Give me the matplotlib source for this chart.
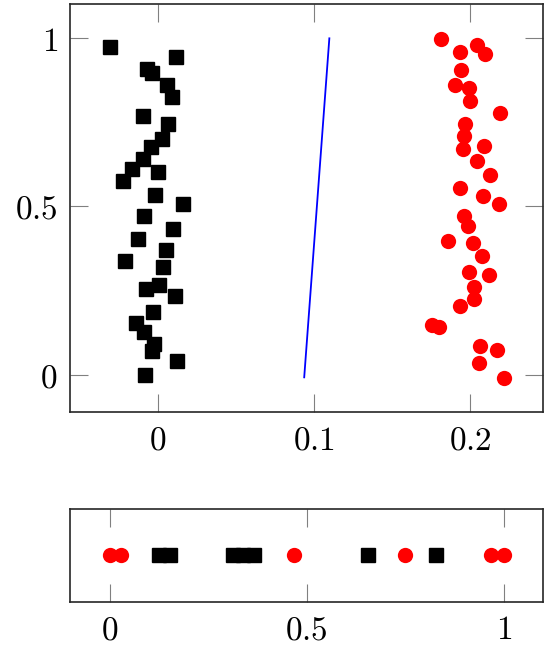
import matplotlib.pyplot as plt

plt.rcParams['mathtext.fontset'] = 'cm'
plt.rcParams['font.family'] = 'serif'

# top panel: two jittered groups
black_x = [-0.0303, 0.0118, -0.0070, -0.0036, 0.0060, 0.0090, -0.0091, 0.0067,
           0.0030, -0.0040, -0.0091, -0.0162, 0.0000, -0.0224, -0.0015, 0.0160,
           -0.0090, 0.0096, -0.0123, 0.0054, -0.0207, 0.0035, 0.0006, -0.0072,
           0.0109, -0.0029, -0.0141, -0.0087, -0.0021, -0.0036, 0.0126, -0.0081]
black_y = [0.974, 0.943, 0.910, 0.896, 0.862, 0.825, 0.770, 0.746,
           0.700, 0.676, 0.641, 0.611, 0.603, 0.575, 0.535, 0.507,
           0.473, 0.433, 0.404, 0.371, 0.338, 0.320, 0.266, 0.254,
           0.234, 0.187, 0.155, 0.128, 0.091, 0.070, 0.042, 0.000]

red_x = [0.1813, 0.2044, 0.1935, 0.2097, 0.1945, 0.1905, 0.1996, 0.2001, 0.2191,
         0.1971, 0.1962, 0.1958, 0.2092, 0.2044, 0.2131, 0.1937, 0.2082, 0.2184,
         0.1964, 0.1990, 0.1862, 0.2018, 0.2075, 0.1992, 0.2124, 0.2024, 0.2024,
         0.1939, 0.1759, 0.1804, 0.2067, 0.2171, 0.2060, 0.2216]
red_y = [0.998, 0.980, 0.960, 0.953, 0.907, 0.861, 0.852, 0.813, 0.779,
         0.745, 0.711, 0.672, 0.680, 0.636, 0.593, 0.556, 0.532, 0.508,
         0.473, 0.442, 0.398, 0.390, 0.353, 0.306, 0.296, 0.260, 0.224,
         0.203, 0.148, 0.143, 0.085, 0.073, 0.034, -0.011]

line_x = [0.0939, 0.1100]
line_y = [-0.008, 1.0]

# bottom panel: values on a line
strip_black = [0.125, 0.154, 0.313, 0.338, 0.366, 0.656, 0.828]
strip_red = [0.0, 0.029, 0.468, 0.750, 0.968, 1.0]


def style(ax):
    ax.tick_params(direction='in', length=13, width=0.8, color='0.5',
                   labelsize=24, pad=9, top=True, right=True)
    for s in ax.spines.values():
        s.set_linewidth(1.2)
        s.set_color('0.15')


fig = plt.figure(figsize=(5.49, 6.49), dpi=100)

ax = fig.add_axes([0.128, 0.3647, 0.8616, 0.6291])
ax.plot(black_x, black_y, 's', color='black', markersize=10.5)
ax.plot(red_x, red_y, 'o', color='red', markersize=11, markeredgewidth=0)
ax.plot(line_x, line_y, color='blue', linewidth=1.3)
ax.set_xlim(-0.0559, 0.247)
ax.set_ylim(-0.112, 1.102)
ax.set_xticks([0, 0.1, 0.2])
ax.set_xticklabels(['$0$', '$0.1$', '$0.2$'])
ax.set_yticks([0, 0.5, 1])
ax.set_yticklabels(['$0$', '$0.5$', '$1$'])
style(ax)

ax2 = fig.add_axes([0.128, 0.0729, 0.8616, 0.1428])
ax2.plot(strip_black, [0] * len(strip_black), 's', color='black', markersize=10.5)
ax2.plot(strip_red, [0] * len(strip_red), 'o', color='red', markersize=11, markeredgewidth=0)
ax2.set_xlim(-0.1, 1.1)
ax2.set_ylim(-1, 1)
ax2.set_xticks([0, 0.5, 1])
ax2.set_xticklabels(['$0$', '$0.5$', '$1$'])
ax2.set_yticks([])
style(ax2)

fig.savefig('out.png', dpi=100)
